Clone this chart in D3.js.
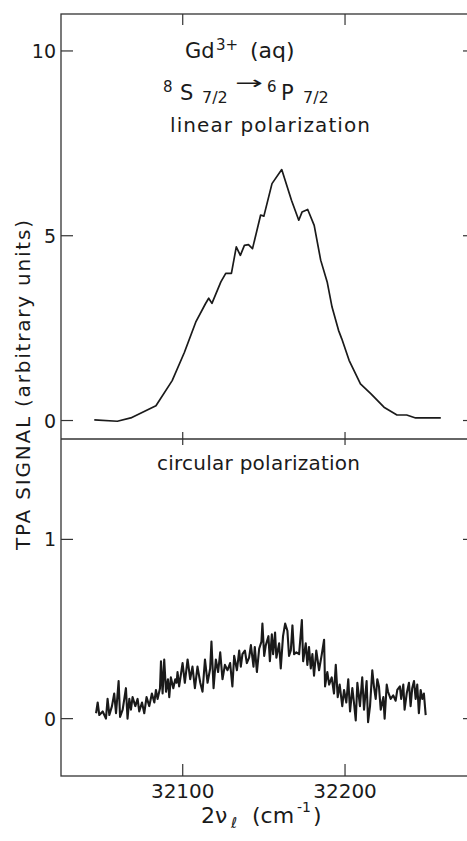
<!DOCTYPE html>
<html lang="en">
<head>
  <meta charset="UTF-8">
  <title>Gd3+ TPA signal</title>
  <script src="https://d3js.org/d3.v7.min.js"></script>
  <style>
    body { margin: 0; background: #fff; }
    svg text { font-family: "DejaVu Sans", sans-serif; fill: #1a1a1a; }
  </style>
</head>
<body>
  <div id="chart"></div>
  <script>
    // wavenumber ticks (cm-1)
    const xTicks = [32100, 32200];
    const xTickLabels = ["32100", "32200"];
    const topYTicks = [0, 5, 10];
    const bottomYTicks = [0, 1];

    // linear polarization trace
    const linearX = [32045.5, 32059.7, 32068, 32083.5, 32093.5, 32101, 32108, 32114, 32116, 32118,
      32123.5, 32126.5, 32130, 32133, 32135.5, 32138, 32140.5, 32143, 32148, 32150,
      32155, 32161, 32167, 32171.5, 32173.5, 32177, 32181, 32185, 32189, 32192,
      32196, 32198, 32202.5, 32209.5, 32216, 32224, 32232, 32238, 32243.5, 32259];
    const linearY = [0.02, -0.02, 0.07, 0.4, 1.08, 1.84, 2.66, 3.16, 3.31, 3.17,
      3.75, 3.98, 3.98, 4.7, 4.47, 4.74, 4.76, 4.65, 5.56, 5.53,
      6.41, 6.79, 5.96, 5.42, 5.64, 5.71, 5.28, 4.34, 3.75, 3.07,
      2.44, 2.21, 1.63, 0.99, 0.72, 0.36, 0.15, 0.15, 0.07, 0.07];

    // circular polarization trace
    const circularX = [32046.6, 32047.6, 32048.6, 32050.7, 32052.7, 32053.7, 32054.8, 32056.4, 32057.8, 32058.9,
      32060.5, 32061.4, 32063, 32065, 32066, 32067.1, 32068.1, 32069.1, 32070.8, 32072.2,
      32073.2, 32074.9, 32076.3, 32077.7, 32079.4, 32081, 32082.5, 32083.5, 32084.5, 32086,
      32086.6, 32087.6, 32088.6, 32089.7, 32090.9, 32091.7, 32092.7, 32094.2, 32095.4, 32096.2,
      32096.8, 32097.8, 32099.9, 32101.3, 32103, 32104.6, 32106, 32107.5, 32109.1, 32110.8,
      32112.2, 32113.7, 32115.3, 32116.9, 32117.7, 32119, 32120.4, 32121.8, 32123.1, 32124.5,
      32126, 32127.6, 32129.2, 32130.6, 32131.7, 32133.4, 32134.8, 32135.8, 32136.8, 32138.3,
      32139.5, 32140.9, 32142, 32143.6, 32144.4, 32145.7, 32147.1, 32148.5, 32149.1, 32150.2,
      32151.2, 32152.8, 32153.7, 32154.9, 32155.7, 32156.9, 32157.7, 32159.4, 32160.4, 32161.8,
      32163.1, 32164.5, 32165.5, 32166.6, 32167.6, 32168.6, 32170, 32171.7, 32173.4, 32174.2,
      32175.8, 32176.8, 32177.8, 32178.9, 32179.9, 32180.9, 32182.3, 32184, 32185.7, 32187.1,
      32187.7, 32189.1, 32190.2, 32191.8, 32193.2, 32194.3, 32195.5, 32196.7, 32198.3, 32199.4,
      32200.8, 32202, 32203.1, 32204.5, 32205.5, 32206.6, 32207.6, 32209.2, 32210.6, 32211.7,
      32213.3, 32214.2, 32215.4, 32216.8, 32217.8, 32218.9, 32219.9, 32220.9, 32222, 32223.6,
      32224.4, 32225.7, 32226.5, 32228.1, 32229.7, 32231.2, 32232.2, 32233.8, 32234.6, 32235.9,
      32236.7, 32238, 32239.4, 32240.4, 32241.4, 32242.5, 32243.5, 32244.5, 32245.5, 32246.6,
      32247.6, 32248.6, 32249.7];
    const circularY = [0.03, 0.09, 0.02, 0.04, 0.00, 0.11, 0.02, 0.07, 0.14, 0.03,
      0.21, 0.01, 0.05, 0.17, 0.00, 0.11, 0.05, 0.12, 0.07, 0.11,
      0.04, 0.09, 0.03, 0.12, 0.07, 0.14, 0.09, 0.16, 0.11, 0.17,
      0.32, 0.14, 0.33, 0.15, 0.22, 0.12, 0.23, 0.17, 0.22, 0.20,
      0.26, 0.18, 0.31, 0.20, 0.33, 0.22, 0.29, 0.17, 0.29, 0.20,
      0.15, 0.33, 0.20, 0.28, 0.43, 0.17, 0.33, 0.26, 0.37, 0.22,
      0.30, 0.27, 0.31, 0.18, 0.35, 0.27, 0.38, 0.29, 0.36, 0.38,
      0.31, 0.34, 0.41, 0.29, 0.40, 0.26, 0.39, 0.43, 0.53, 0.35,
      0.41, 0.46, 0.32, 0.47, 0.36, 0.48, 0.34, 0.42, 0.28, 0.46,
      0.53, 0.49, 0.35, 0.38, 0.52, 0.36, 0.37, 0.36, 0.55, 0.32,
      0.42, 0.30, 0.40, 0.28, 0.36, 0.24, 0.38, 0.27, 0.36, 0.44,
      0.18, 0.26, 0.19, 0.23, 0.14, 0.30, 0.12, 0.19, 0.07, 0.16,
      0.09, 0.22, 0.04, 0.17, 0.09, -0.01, 0.20, 0.07, 0.23, 0.05,
      0.21, -0.02, 0.07, 0.27, 0.18, 0.11, 0.22, 0.18, 0.05, 0.12,
      0.00, 0.19, 0.15, 0.11, 0.13, 0.10, 0.16, 0.18, 0.11, 0.19,
      0.05, 0.14, 0.20, 0.07, 0.17, 0.21, 0.11, 0.19, 0.03, 0.16,
      0.11, 0.14, 0.02];

    const width = 467, height = 841;
    const plotL = 61, plotR = 470, plotT = 14, plotM = 439, plotB = 776;
    const ink = "#1a1a1a";

    const svg = d3.select("#chart").append("svg")
      .attr("width", width)
      .attr("height", height);

    const x = d3.scaleLinear().domain([32025, 32277]).range([plotL, plotR]);
    const yTop = d3.scaleLinear().domain([-0.5, 11]).range([plotM, plotT]);
    const yBot = d3.scaleLinear().domain([-0.32, 1.56]).range([plotB, plotM]);

    // frame
    svg.append("rect")
      .attr("x", plotL).attr("y", plotT)
      .attr("width", plotR - plotL).attr("height", plotB - plotT)
      .attr("fill", "none").attr("stroke", "#333").attr("stroke-width", 1.3);
    svg.append("line")
      .attr("x1", plotL).attr("x2", plotR).attr("y1", plotM).attr("y2", plotM)
      .attr("stroke", "#333").attr("stroke-width", 1.3);

    // x ticks: top (down), middle (both ways), bottom (up)
    const xt = svg.append("g").attr("stroke", "#333").attr("stroke-width", 1.2);
    xTicks.forEach(v => {
      xt.append("line").attr("x1", x(v)).attr("x2", x(v)).attr("y1", plotT).attr("y2", plotT + 11);
      xt.append("line").attr("x1", x(v)).attr("x2", x(v)).attr("y1", plotM - 7).attr("y2", plotM + 6);
      xt.append("line").attr("x1", x(v)).attr("x2", x(v)).attr("y1", plotB - 12).attr("y2", plotB);
    });

    svg.append("g")
      .selectAll("text")
      .data(xTicks)
      .join("text")
      .attr("x", d => x(d))
      .attr("y", 798)
      .attr("text-anchor", "middle")
      .attr("font-size", 20)
      .text((d, i) => xTickLabels[i]);

    // y ticks
    function yTickGroup(scale, ticks) {
      const g = svg.append("g");
      g.selectAll("line.l")
        .data(ticks).join("line").attr("class", "l")
        .attr("x1", plotL).attr("x2", plotL + 12)
        .attr("y1", d => scale(d)).attr("y2", d => scale(d))
        .attr("stroke", "#333").attr("stroke-width", 1.2);
      g.selectAll("line.r")
        .data(ticks).join("line").attr("class", "r")
        .attr("x1", plotR - 7).attr("x2", plotR)
        .attr("y1", d => scale(d)).attr("y2", d => scale(d))
        .attr("stroke", "#333").attr("stroke-width", 1.2);
      g.selectAll("text")
        .data(ticks).join("text")
        .attr("x", 56)
        .attr("y", d => scale(d) + 7)
        .attr("text-anchor", "end")
        .attr("font-size", 19)
        .text(d => d);
    }
    yTickGroup(yTop, topYTicks);
    yTickGroup(yBot, bottomYTicks);

    // traces
    const linePts = linearX.map((v, i) => [v, linearY[i]]);
    const circPts = circularX.map((v, i) => [v, circularY[i]]);

    svg.append("path")
      .datum(linePts)
      .attr("fill", "none")
      .attr("stroke", ink)
      .attr("stroke-width", 1.7)
      .attr("stroke-linejoin", "round")
      .attr("d", d3.line().x(d => x(d[0])).y(d => yTop(d[1])));

    svg.append("path")
      .datum(circPts)
      .attr("fill", "none")
      .attr("stroke", ink)
      .attr("stroke-width", 2.1)
      .attr("stroke-linejoin", "round")
      .attr("d", d3.line().x(d => x(d[0])).y(d => yBot(d[1])));

    // annotations
    function label(xp, yp, size, str, len) {
      const t = svg.append("text").attr("x", xp).attr("y", yp).attr("font-size", size).text(str);
      if (len) t.attr("textLength", len).attr("lengthAdjust", "spacing");
      return t;
    }
    label(185, 58, 21, "Gd");
    label(216, 50, 15, "3+");
    label(250, 58, 22, "(aq)");

    label(163, 92, 15, "8");
    label(180, 100, 21, "S");
    label(202, 103, 16, "7/2");
    svg.append("text").attr("x", 235).attr("y", 89).attr("font-size", 18)
      .attr("textLength", 28).attr("lengthAdjust", "spacingAndGlyphs").text("→");
    label(267, 92, 15, "6");
    label(281, 100, 21, "P");
    label(303, 103, 16, "7/2");

    label(170, 132, 20, "linear polarization", 200);
    label(157, 470, 20, "circular polarization", 203);

    // axis titles
    svg.append("text")
      .attr("transform", "translate(30,385) rotate(-90)")
      .attr("text-anchor", "middle")
      .attr("font-size", 20)
      .attr("textLength", 330)
      .attr("lengthAdjust", "spacing")
      .text("TPA SIGNAL (arbitrary units)");

    label(201, 823, 22, "2ν");
    label(231, 828, 15, "ℓ");
    label(252, 823, 22, "(cm");
    label(297, 812, 14, "-1");
    label(313, 823, 22, ")");
  </script>
</body>
</html>
